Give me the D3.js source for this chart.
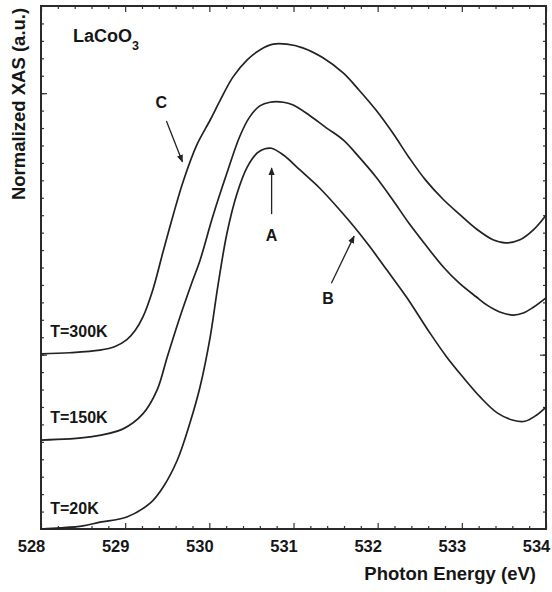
<!DOCTYPE html>
<html>
<head>
<meta charset="utf-8">
<script src="https://cdn.jsdelivr.net/npm/d3@7"></script>
<style>
  body { margin: 0; background: #fff; }
  text { font-family: "Liberation Sans", Arial, Helvetica, sans-serif; font-weight: bold; fill: #161616; }
</style>
</head>
<body>
<div id="chart"></div>
<script>
// photon energy (eV) and normalized XAS (a.u.), offset curves
let energy300 = [528.00, 528.34, 528.70, 528.88, 529.02, 529.12, 529.21, 529.33, 529.45, 529.57, 529.69, 529.85, 530.01, 530.13, 530.28, 530.45, 530.60, 530.76, 530.92, 531.11, 531.35, 531.59, 531.78, 531.98, 532.18, 532.37, 532.57, 532.78, 532.97, 533.17, 533.37, 533.52, 533.69, 533.85, 534.00];
let xas300 = [3.35, 3.37, 3.42, 3.49, 3.62, 3.80, 4.05, 4.58, 5.30, 6.00, 6.65, 7.34, 7.82, 8.20, 8.64, 8.97, 9.16, 9.27, 9.27, 9.20, 9.01, 8.72, 8.39, 8.01, 7.57, 7.11, 6.67, 6.30, 6.02, 5.74, 5.53, 5.47, 5.53, 5.72, 6.00];

let energy150 = [528.00, 528.58, 528.97, 529.21, 529.38, 529.50, 529.65, 529.79, 529.89, 530.04, 530.21, 530.36, 530.48, 530.60, 530.72, 530.88, 530.99, 531.18, 531.39, 531.59, 531.78, 531.98, 532.18, 532.37, 532.57, 532.78, 532.97, 533.17, 533.30, 533.45, 533.61, 533.73, 533.85, 534.00];
let xas150 = [1.70, 1.76, 1.91, 2.20, 2.66, 3.29, 4.05, 4.70, 5.14, 5.97, 6.81, 7.50, 7.88, 8.09, 8.16, 8.16, 8.11, 7.92, 7.67, 7.44, 7.11, 6.73, 6.29, 5.85, 5.43, 5.01, 4.70, 4.44, 4.28, 4.15, 4.09, 4.13, 4.24, 4.42];

let energy20 = [528.00, 528.23, 528.50, 528.70, 529.02, 529.30, 529.45, 529.62, 529.77, 529.89, 530.01, 530.10, 530.21, 530.33, 530.45, 530.57, 530.66, 530.74, 530.88, 531.08, 531.31, 531.55, 531.73, 531.91, 532.11, 532.34, 532.62, 532.82, 533.01, 533.22, 533.42, 533.61, 533.75, 533.89, 534.00];
let xas20 = [0.00, 0.02, 0.06, 0.13, 0.23, 0.50, 0.80, 1.32, 2.03, 2.72, 3.67, 4.63, 5.66, 6.42, 6.92, 7.19, 7.27, 7.28, 7.15, 6.86, 6.52, 6.10, 5.76, 5.39, 4.95, 4.44, 3.75, 3.29, 2.91, 2.52, 2.22, 2.08, 2.06, 2.18, 2.33];

let xTicks = [528, 529, 530, 531, 532, 533, 534];
let tempLabels = ["T=300K", "T=150K", "T=20K"];

let w = 552;
let h = 592;
let margin = { left: 41, right: 6, top: 6, bottom: 63 };

let svg = d3.select("#chart")
  .append("svg")
  .attr("width", w)
  .attr("height", h)
  .style("background-color", "white")
  ;

let xScale = d3.scaleLinear().domain([528, 534]).range([margin.left, w - margin.right]);
let yScale = d3.scaleLinear().domain([0, 10]).range([h - margin.bottom, margin.top]);

// arrow head
svg.append("defs").append("marker")
  .attr("id", "head")
  .attr("viewBox", "0 0 10 10")
  .attr("refX", 9)
  .attr("refY", 5)
  .attr("markerWidth", 6)
  .attr("markerHeight", 6)
  .attr("orient", "auto")
  .append("path")
  .attr("d", "M0,1 L10,5 L0,9 z")
  .attr("fill", "#222")
  ;

// ticks, all pointing inside
let minorX = d3.range(528, 534.001, 0.2).filter(v => Math.abs(v - Math.round(v)) > 0.01);
let minorY = d3.range(1, 30).map(k => k / 3);
let majorY = [10 / 3, 25 / 3];

let xBottom = svg.append("g")
  .attr("transform", "translate(0," + (h - margin.bottom) + ")")
  .call(d3.axisBottom(xScale).tickValues(xTicks).tickSizeInner(-6).tickSizeOuter(0).tickPadding(11).tickFormat(d3.format("d")));
xBottom.selectAll("text").attr("x", -10).style("font-size", "16.5px");
svg.append("g")
  .attr("transform", "translate(0," + (h - margin.bottom) + ")")
  .call(d3.axisBottom(xScale).tickValues(minorX).tickSizeInner(-3).tickSizeOuter(0).tickFormat(""));
svg.append("g")
  .attr("transform", "translate(0," + margin.top + ")")
  .call(d3.axisTop(xScale).tickValues(xTicks).tickSizeInner(-6).tickSizeOuter(0).tickFormat(""));
svg.append("g")
  .attr("transform", "translate(0," + margin.top + ")")
  .call(d3.axisTop(xScale).tickValues(minorX).tickSizeInner(-3).tickSizeOuter(0).tickFormat(""));

svg.append("g")
  .attr("transform", "translate(" + margin.left + ",0)")
  .call(d3.axisLeft(yScale).tickValues(majorY).tickSizeInner(-6).tickSizeOuter(0).tickFormat(""));
svg.append("g")
  .attr("transform", "translate(" + margin.left + ",0)")
  .call(d3.axisLeft(yScale).tickValues(minorY).tickSizeInner(-3).tickSizeOuter(0).tickFormat(""));
svg.append("g")
  .attr("transform", "translate(" + (w - margin.right) + ",0)")
  .call(d3.axisRight(yScale).tickValues(majorY).tickSizeInner(-6).tickSizeOuter(0).tickFormat(""));
svg.append("g")
  .attr("transform", "translate(" + (w - margin.right) + ",0)")
  .call(d3.axisRight(yScale).tickValues(minorY).tickSizeInner(-3).tickSizeOuter(0).tickFormat(""));

svg.selectAll(".domain").remove();
svg.selectAll(".tick line").attr("stroke", "#333").attr("stroke-width", 1.2);

// frame
svg.append("rect")
  .attr("x", xScale(528))
  .attr("y", yScale(10))
  .attr("width", xScale(534) - xScale(528))
  .attr("height", yScale(0) - yScale(10))
  .attr("fill", "none")
  .attr("stroke", "#2a2a2a")
  .attr("stroke-width", 2)
  ;

// spectra
let series = [
  { name: tempLabels[0], e: energy300, v: xas300 },
  { name: tempLabels[1], e: energy150, v: xas150 },
  { name: tempLabels[2], e: energy20, v: xas20 },
];

let line = d3.line()
  .x(d => xScale(d[0]))
  .y(d => yScale(d[1]))
  .curve(d3.curveCatmullRom.alpha(0.5));

svg.append("g").selectAll("path")
  .data(series)
  .enter()
  .append("path")
  .attr("d", d => line(d3.zip(d.e, d.v)))
  .attr("fill", "none")
  .attr("stroke", "#222")
  .attr("stroke-width", 1.7)
  ;

// temperature labels
let labelPos = [[528.11, 3.67], [528.11, 2.03], [528.11, 0.29]];
svg.append("g").selectAll("text")
  .data(series)
  .enter()
  .append("text")
  .attr("x", (d, i) => xScale(labelPos[i][0]))
  .attr("y", (d, i) => yScale(labelPos[i][1]))
  .style("font-size", "16px")
  .text(d => d.name)
  ;

// sample name
let title = svg.append("text")
  .attr("x", xScale(528.38))
  .attr("y", yScale(9.31))
  .style("font-size", "18px");
title.append("tspan").text("LaCoO");
title.append("tspan").attr("dy", 8).style("font-size", "12.5px").text("3");

// feature labels with arrows
let notes = [
  { label: "A", text: [530.74, 5.51], from: [530.74, 6.02], to: [530.74, 6.90] },
  { label: "B", text: [531.41, 4.30], from: [531.45, 4.70], to: [531.72, 5.60] },
  { label: "C", text: [529.43, 8.05], from: [529.49, 7.80], to: [529.68, 7.02] },
];

let noteGroup = svg.append("g");
noteGroup.selectAll("text")
  .data(notes)
  .enter()
  .append("text")
  .attr("x", d => xScale(d.text[0]))
  .attr("y", d => yScale(d.text[1]))
  .attr("text-anchor", "middle")
  .style("font-size", "16px")
  .text(d => d.label)
  ;
noteGroup.selectAll("line")
  .data(notes)
  .enter()
  .append("line")
  .attr("x1", d => xScale(d.from[0]))
  .attr("y1", d => yScale(d.from[1]))
  .attr("x2", d => xScale(d.to[0]))
  .attr("y2", d => yScale(d.to[1]))
  .attr("stroke", "#222")
  .attr("stroke-width", 1.3)
  .attr("marker-end", "url(#head)")
  ;

// axis titles
svg.append("text")
  .attr("x", 536)
  .attr("y", 580)
  .attr("text-anchor", "end")
  .style("font-size", "18.5px")
  .text("Photon Energy (eV)");

svg.append("text")
  .attr("transform", "translate(25," + 104 + ") rotate(-90)")
  .attr("text-anchor", "middle")
  .style("font-size", "18.5px")
  .text("Normalized XAS (a.u.)");
</script>
</body>
</html>
